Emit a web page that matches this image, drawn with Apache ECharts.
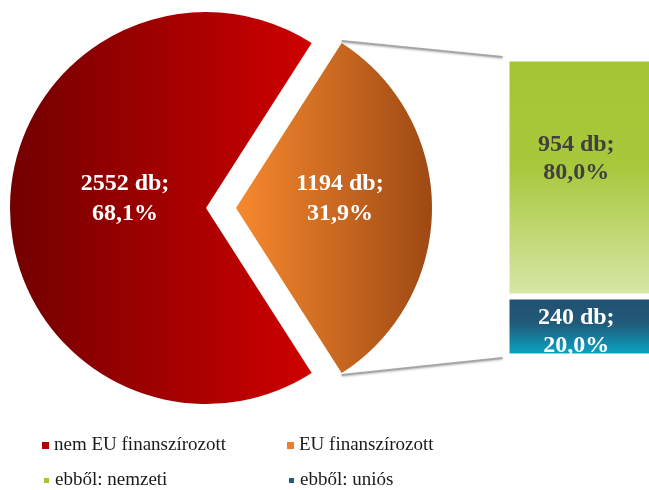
<!DOCTYPE html>
<html>
<head>
<meta charset="utf-8">
<script src="https://cdn.jsdelivr.net/npm/echarts@6/dist/echarts.min.js"></script>
<style>
  html, body { margin: 0; padding: 0; background: #fff; }
  #container { width: 649px; height: 490px; }
</style>
</head>
<body>
<div id="container"></div>
<script>
// adatok
var pieNames = ['nem EU finanszírozott', 'EU finanszírozott'];
var pieValues = [2552, 1194];
var piePercents = ['68,1%', '31,9%'];
var barNames = ['ebből: nemzeti', 'ebből: uniós'];
var barValues = [954, 240];
var barPercents = ['80,0%', '20,0%'];

var dom = document.getElementById('container');
var myChart = echarts.init(dom);

var serif = '"Book Antiqua", "Palatino Linotype", "Liberation Serif", serif';

// elrendezes
var cx = 206, cy = 208, R = 196, explode = 30;
var euShare = pieValues[1] / (pieValues[0] + pieValues[1]);
var halfAngle = euShare * 180;   // fokban
var gridLeft = 506.5, gridTop = 58.5, gridBottom = 133.5;

var redGrad = new echarts.graphic.LinearGradient(0, 0, 1, 0, [
    { offset: 0, color: '#720000' },
    { offset: 1, color: '#cf0000' }
]);
var orangeGrad = new echarts.graphic.LinearGradient(0, 0, 1, 0, [
    { offset: 0, color: '#f7892e' },
    { offset: 1, color: '#9e4914' }
]);
var greenGrad = new echarts.graphic.LinearGradient(0, 0, 0, 1, [
    { offset: 0, color: '#a6c535' },
    { offset: 0.45, color: '#a8c73b' },
    { offset: 1, color: '#d8e7a9' }
]);
var blueGrad = new echarts.graphic.LinearGradient(0, 0, 0, 1, [
    { offset: 0, color: '#21506f' },
    { offset: 0.45, color: '#225a7a' },
    { offset: 1, color: '#08aac8' }
]);

var labelText = function (val, pct) {
    return val + ' db;\n' + pct;
};
// a kor cimkeit egy ures sorral feljebb toljuk
var pieLabelText = function (val, pct) {
    return '{t|' + val + ' db;}\n{t|' + pct + '}\n{s|}';
};

// osszekoto vonalak a kiemelt szelet csucsaitol a savhoz
var rad = halfAngle * Math.PI / 180;
var tipX = cx + explode + R * Math.cos(rad);
var tipTopY = cy - R * Math.sin(rad);
var tipBotY = cy + R * Math.sin(rad);
var barX = gridLeft - 4;
var lineStyle = { stroke: '#a6a6a6', lineWidth: 2, shadowBlur: 2, shadowColor: 'rgba(0,0,0,0.25)', shadowOffsetY: 1 };

// jelmagyarazat: egy elem egy legend
var legendItem = function (name, color, left, top) {
    return {
        left: left,
        top: top,
        itemWidth: 7,
        itemHeight: 7,
        itemGap: 0,
        icon: 'rect',
        selectedMode: false,
        padding: 0,
        textStyle: { fontFamily: serif, fontSize: 19, color: '#1a1a1a' },
        data: [{ name: name, itemStyle: { color: color } }]
    };
};

var option = {
    backgroundColor: '#fff',
    animation: false,
    legend: [
        legendItem(pieNames[0], '#b00000', 42, 436),
        legendItem(pieNames[1], '#ee7d2d', 287, 436),
        legendItem(barNames[0], '#a6c535', 42, 471),
        legendItem(barNames[1], '#1f5d7e', 287, 471)
    ],
    grid: { left: gridLeft, right: -5, top: gridTop, bottom: gridBottom, outerBoundsMode: 'none' },
    xAxis: { type: 'category', data: ['EU'], show: false },
    yAxis: { type: 'value', min: 0, max: pieValues[1], show: false },
    graphic: [
        { type: 'line', shape: { x1: tipX, y1: tipTopY - 2, x2: barX, y2: 57 }, style: lineStyle, z: 10 },
        { type: 'line', shape: { x1: tipX, y1: tipBotY + 2, x2: barX, y2: 358 }, style: lineStyle, z: 10 }
    ],
    series: [
        {
            name: 'finanszirozas',
            type: 'pie',
            center: [cx, cy],
            radius: R,
            startAngle: halfAngle,
            clockwise: true,
            selectedMode: 'single',
            selectedOffset: explode,
            emphasis: { disabled: true },
            labelLine: { show: false },
            label: {
                show: true,
                position: 'inside',
                rich: {
                    t: {
                        fontFamily: serif,
                        fontSize: 24,
                        fontWeight: 'bold',
                        color: '#fff',
                        lineHeight: 30
                    },
                    s: { lineHeight: 18, fontSize: 10 }
                }
            },
            data: [
                {
                    name: pieNames[1], value: pieValues[1], selected: true,
                    itemStyle: { color: orangeGrad },
                    label: { formatter: pieLabelText(pieValues[1], piePercents[1]), padding: [0, 0, 0, 6] }
                },
                {
                    name: pieNames[0], value: pieValues[0],
                    itemStyle: { color: redGrad },
                    label: { formatter: pieLabelText(pieValues[0], piePercents[0]), padding: [0, 0, 0, 40] }
                }
            ]
        },
        {
            name: barNames[1],
            type: 'bar',
            stack: 'eu',
            barWidth: '100%',
            itemStyle: { color: blueGrad, borderColor: '#fff', borderWidth: 3 },
            emphasis: { disabled: true },
            label: {
                show: true,
                position: 'inside',
                formatter: labelText(barValues[1], barPercents[1]),
                fontFamily: serif,
                fontSize: 24,
                fontWeight: 'bold',
                color: '#fff',
                lineHeight: 28,
                offset: [-4, 5]
            },
            data: [barValues[1]]
        },
        {
            name: barNames[0],
            type: 'bar',
            stack: 'eu',
            barWidth: '100%',
            itemStyle: { color: greenGrad, borderColor: '#fff', borderWidth: 3 },
            emphasis: { disabled: true },
            label: {
                show: true,
                position: 'inside',
                formatter: labelText(barValues[0], barPercents[0]),
                fontFamily: serif,
                fontSize: 24,
                fontWeight: 'bold',
                color: '#404040',
                lineHeight: 28,
                offset: [-4, -19]
            },
            data: [barValues[0]]
        }
    ]
};

if (option && typeof option === 'object') {
    myChart.setOption(option, true);
}
</script>
</body>
</html>
